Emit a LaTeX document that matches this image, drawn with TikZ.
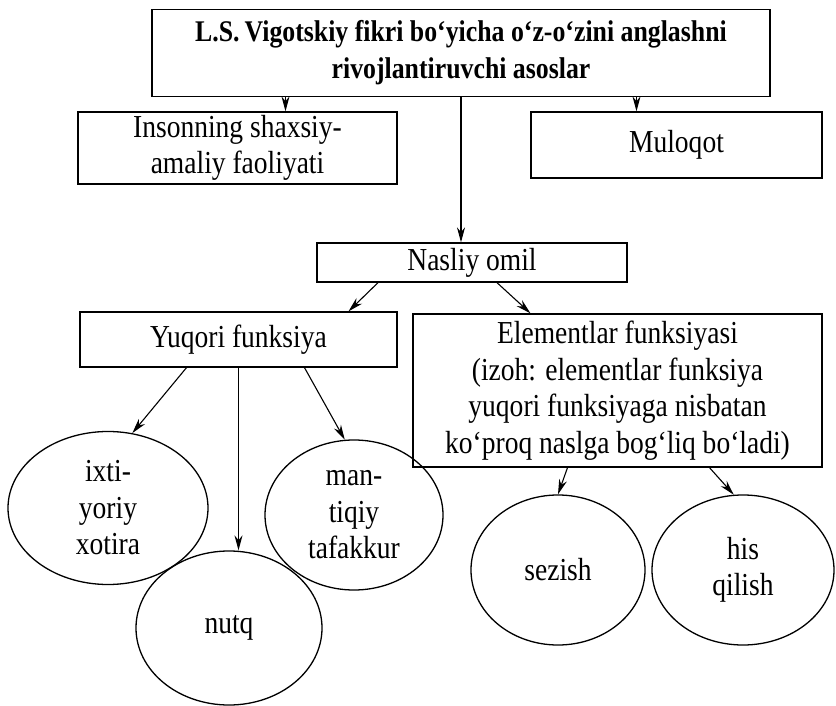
\documentclass[tikz,border=0pt]{standalone}
\usepackage{fontspec}
\setmainfont{Liberation Serif}[FakeStretch=0.86]
\usetikzlibrary{arrows,arrows.meta,shapes,positioning}
\tikzset{>={Stealth[length=15pt,width=8pt]},
  box/.style={draw, rectangle, align=center, inner sep=0pt, line width=1.3pt},
  oval/.style={draw, ellipse, align=center, inner sep=0pt, line width=1.3pt},
  arrow/.style={->, line width=1.1pt},
}

\begin{document}
\begin{tikzpicture}[x=1pt, y=-1pt, font=\fontsize{32}{36.5}\selectfont]
    \useasboundingbox (0,0) rectangle (836,706);

    \node[box, minimum width=618, minimum height=87, font=\fontsize{30}{37}\selectfont\bfseries]
        (top) at (461,53) {L.S.\,Vigotskiy fikri bo‘yicha o‘z-o‘zini anglashni\\rivojlantiruvchi asoslar};
    \node[box, minimum width=319, minimum height=72] (ins) at (237.5,148) {Insonning shaxsiy-\\amaliy faoliyati};
    \node[box, minimum width=291, minimum height=66] (mul) at (676.5,145) {Muloqot};
    \node[box, minimum width=310, minimum height=39] (nas) at (472,262.5) {Nasliy omil};
    \node[box, minimum width=317, minimum height=55] (yuq) at (238.5,339.5) {Yuqori funksiya};
    \node[box, minimum width=409, minimum height=153] (ele) at (617.5,390.5)
        {Elementlar funksiyasi\\(izoh: elementlar funksiya\\yuqori funksiyaga nisbatan\\ko‘proq naslga bog‘liq bo‘ladi)};

    \node[oval, minimum width=200, minimum height=153] (ixt) at (108,508) {ixti-\\yoriy\\xotira};
    \node[oval, minimum width=178, minimum height=150] (man) at (354,515) {man-\\tiqiy\\tafakkur};
    \node[oval, minimum width=186, minimum height=154] (nut) at (229,628) {nutq};
    \node[oval, minimum width=174, minimum height=150] (sez) at (558,570) {sezish};
    \node[oval, minimum width=182, minimum height=150] (his) at (743,570) {his\\qilish};

    % top level
    \draw[arrow] ([xshift=48]ins.north |- top.south) -- ([xshift=48]ins.north);
    \draw[arrow] ([xshift=-40]mul.north |- top.south) -- ([xshift=-40]mul.north);
    \draw[arrow] (top.south) -- (top.south |- nas.north);

    % nasliy omil
    \draw[arrow] ([xshift=-94]nas.south) -- ([xshift=110]yuq.north);
    \draw[arrow] ([xshift=25]nas.south) -- ([xshift=-87]ele.north);

    % yuqori funksiya
    \draw[arrow] ([xshift=-52]yuq.south) -- (ixt.72);
    \draw[arrow] (yuq.south) -- (yuq.south |- nut.north);
    \draw[arrow] ([xshift=66]yuq.south) -- (man.97);

    % elementlar
    \draw[arrow] ([xshift=-50]ele.south) -- (sez.north);
    \draw[arrow] ([xshift=92]ele.south) -- (his.97);
\end{tikzpicture}
\end{document}
